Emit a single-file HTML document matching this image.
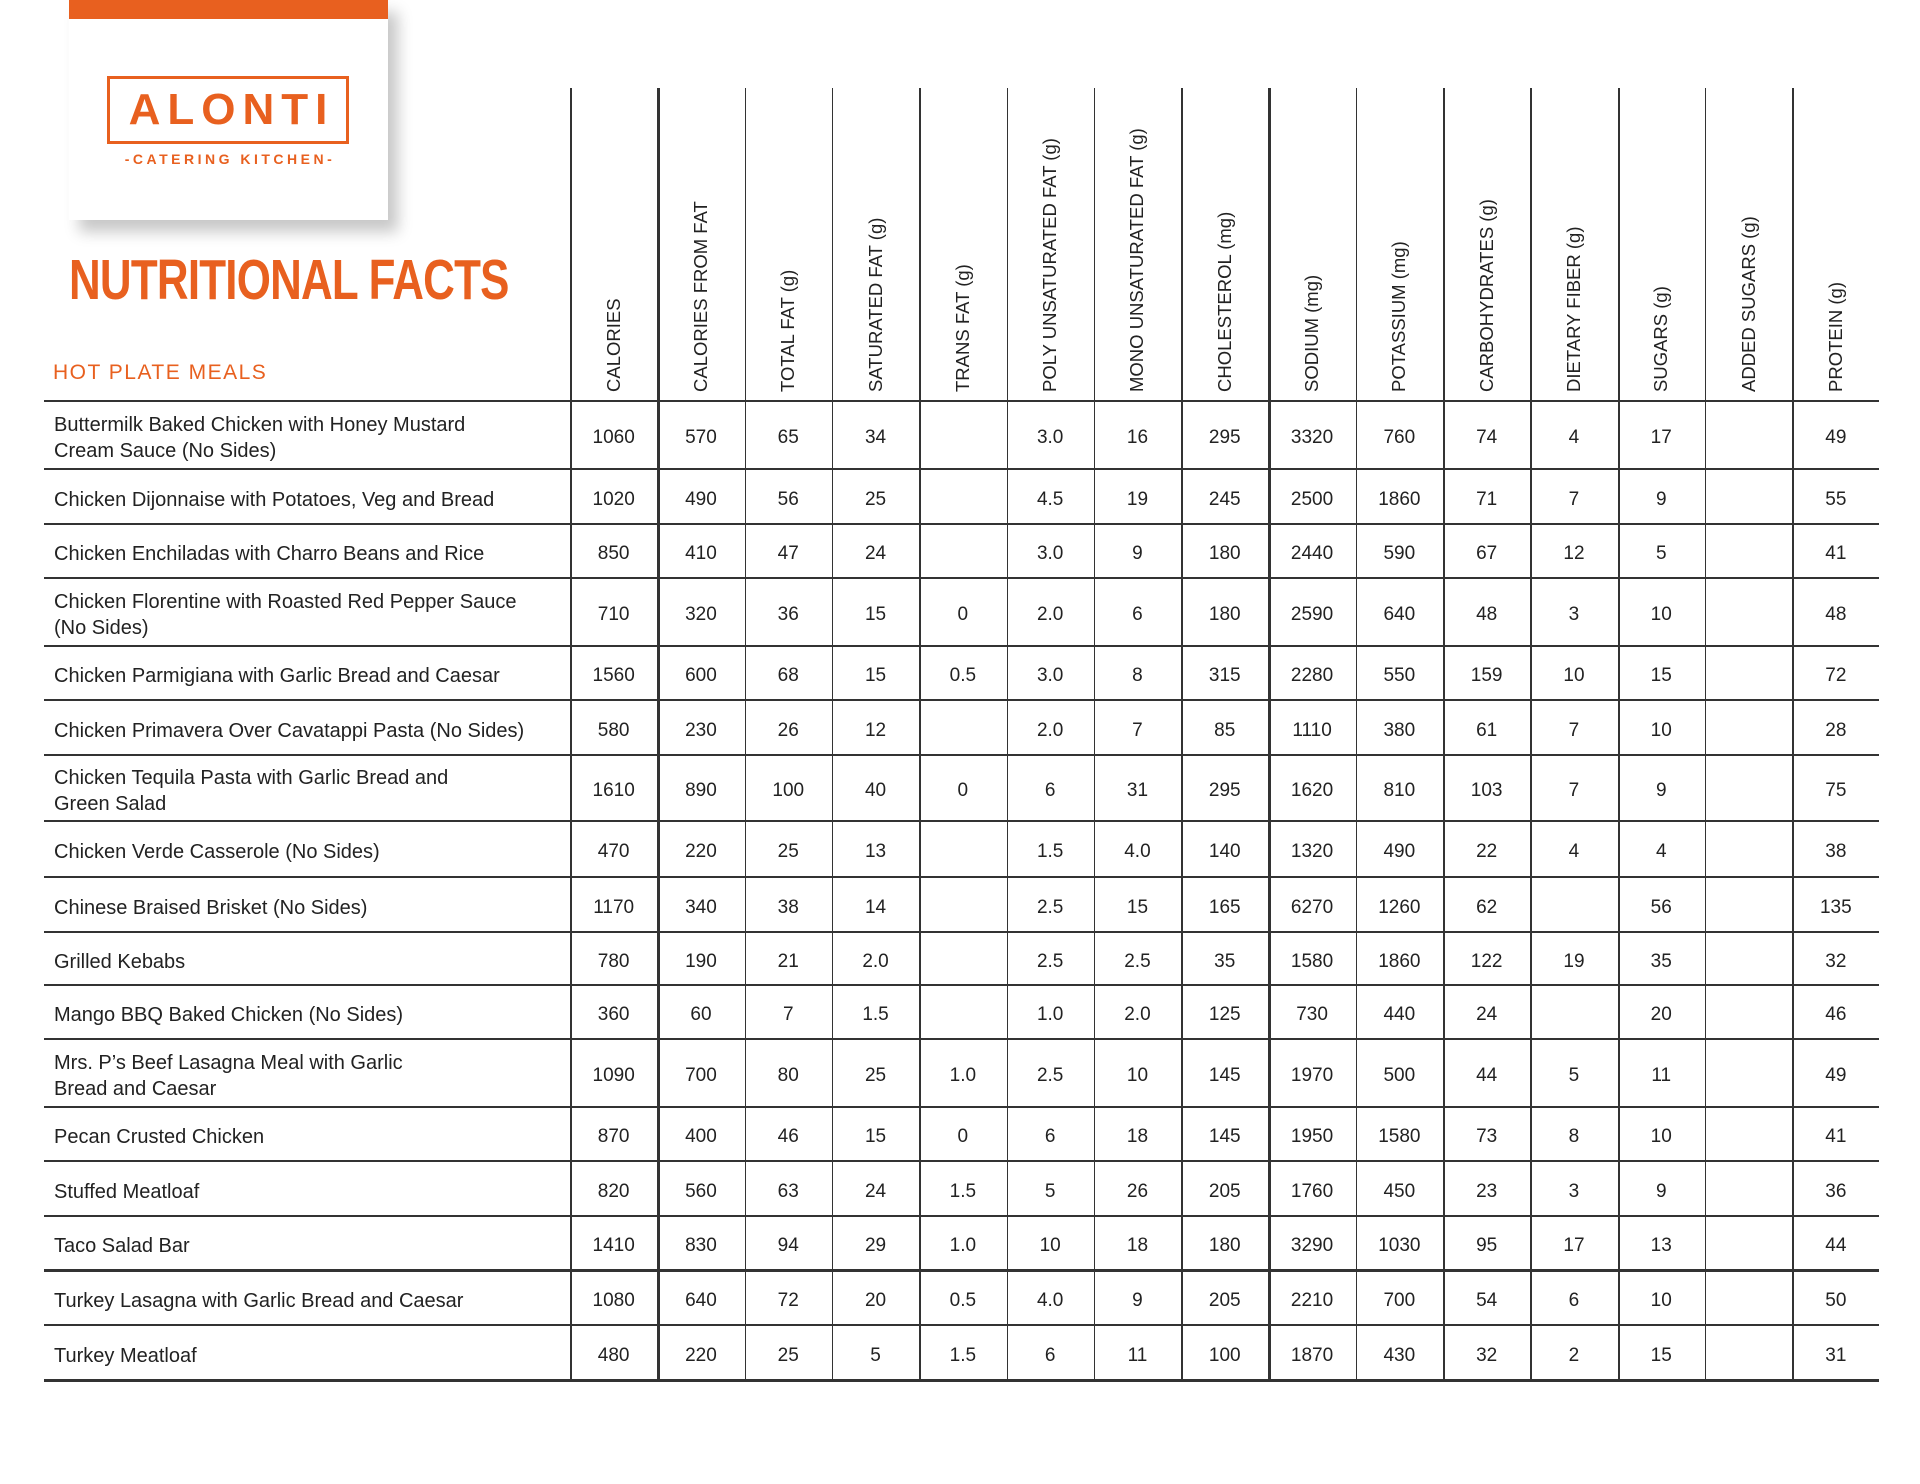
<!DOCTYPE html>
<html><head><meta charset="utf-8">
<style>
body{margin:0;width:1920px;height:1484px;background:#fff;position:relative;overflow:hidden;font-family:"Liberation Sans",sans-serif;color:#222}
.abs{position:absolute}
.hline{position:absolute;background:#333;height:1.5px}
.vline{position:absolute;background:#333;width:1.5px}
.hdr{position:absolute;transform-origin:0 0;transform:rotate(-90deg);white-space:nowrap;font-size:18.5px;color:#222}
.name{position:absolute;left:54px;font-size:20px;line-height:26px;color:#222}
.val{position:absolute;font-size:19px;text-align:center;color:#222}
</style></head><body>
<div class="abs" style="left:69px;top:0;width:319px;height:220px;background:#fff;box-shadow:10px 12px 14px rgba(0,0,0,0.22)"></div>
<div class="abs" style="left:69px;top:0;width:319px;height:19px;background:#e8601f"></div>
<div class="abs" style="left:107px;top:76px;width:236px;height:62px;border:3.5px solid #e8601f;color:#e8601f;font-weight:bold;font-size:44px;line-height:62px;text-align:center;letter-spacing:7px;text-indent:7px">ALONTI</div>
<div class="abs" style="left:105px;top:151px;width:250px;text-align:center;color:#e8601f;font-weight:bold;font-size:14px;letter-spacing:3.5px;white-space:nowrap">-CATERING KITCHEN-</div>
<div class="abs" style="left:69px;top:250px;color:#e8601f;font-weight:bold;font-size:57px;line-height:60px;transform:scaleX(0.77);transform-origin:0 0;white-space:nowrap;letter-spacing:-1px">NUTRITIONAL FACTS</div>
<div class="abs" style="left:53px;top:361px;color:#e8601f;font-size:21px;letter-spacing:1.5px">HOT PLATE MEALS</div>
<div id="tbl"></div>
<script>
const headers=["CALORIES","CALORIES FROM FAT","TOTAL FAT (g)","SATURATED FAT (g)","TRANS FAT (g)","POLY UNSATURATED FAT (g)","MONO UNSATURATED FAT (g)","CHOLESTEROL (mg)","SODIUM (mg)","POTASSIUM (mg)","CARBOHYDRATES (g)","DIETARY FIBER (g)","SUGARS (g)","ADDED SUGARS (g)","PROTEIN (g)"];
const meals=["Buttermilk Baked Chicken with Honey Mustard<br>Cream Sauce (No Sides)","Chicken Dijonnaise with Potatoes, Veg and Bread","Chicken Enchiladas with Charro Beans and Rice","Chicken Florentine with Roasted Red Pepper Sauce<br>(No Sides)","Chicken Parmigiana with Garlic Bread and Caesar","Chicken Primavera Over Cavatappi Pasta (No Sides)","Chicken Tequila Pasta with Garlic Bread and<br>Green Salad","Chicken Verde Casserole (No Sides)","Chinese Braised Brisket (No Sides)","Grilled Kebabs","Mango BBQ Baked Chicken (No Sides)","Mrs. P’s Beef Lasagna Meal with Garlic<br>Bread and Caesar","Pecan Crusted Chicken","Stuffed Meatloaf","Taco Salad Bar","Turkey Lasagna with Garlic Bread and Caesar","Turkey Meatloaf"];
const values=[
["1060","570","65","34","","3.0","16","295","3320","760","74","4","17","","49"],
["1020","490","56","25","","4.5","19","245","2500","1860","71","7","9","","55"],
["850","410","47","24","","3.0","9","180","2440","590","67","12","5","","41"],
["710","320","36","15","0","2.0","6","180","2590","640","48","3","10","","48"],
["1560","600","68","15","0.5","3.0","8","315","2280","550","159","10","15","","72"],
["580","230","26","12","","2.0","7","85","1110","380","61","7","10","","28"],
["1610","890","100","40","0","6","31","295","1620","810","103","7","9","","75"],
["470","220","25","13","","1.5","4.0","140","1320","490","22","4","4","","38"],
["1170","340","38","14","","2.5","15","165","6270","1260","62","","56","","135"],
["780","190","21","2.0","","2.5","2.5","35","1580","1860","122","19","35","","32"],
["360","60","7","1.5","","1.0","2.0","125","730","440","24","","20","","46"],
["1090","700","80","25","1.0","2.5","10","145","1970","500","44","5","11","","49"],
["870","400","46","15","0","6","18","145","1950","1580","73","8","10","","41"],
["820","560","63","24","1.5","5","26","205","1760","450","23","3","9","","36"],
["1410","830","94","29","1.0","10","18","180","3290","1030","95","17","13","","44"],
["1080","640","72","20","0.5","4.0","9","205","2210","700","54","6","10","","50"],
["480","220","25","5","1.5","6","11","100","1870","430","32","2","15","","31"]];
const rowLines=[400,468,523,577,645,699,754,820,876,931,984,1038,1106,1160,1215,1269,1324,1379];
const tbl=document.getElementById('tbl');
const X0=570, CW=87.3, L=44, R=1879, TOP=88;
function colX(i){return X0+i*CW;}
for(let i=0;i<headers.length;i++){
  const v=document.createElement('div');v.className='vline';
  
  
  v.style.left=colX(i)+'px';v.style.top=TOP+'px';v.style.height=(1379-TOP)+'px';
  if(i==1||i==8||i==12)v.style.width='2.5px';
  tbl.appendChild(v);
}
headers.forEach((h,i)=>{
  const d=document.createElement('div');d.className='hdr';
  
  
  d.textContent=h;d.style.left=(colX(i)+CW/2-11)+'px';d.style.top='392px';
  tbl.appendChild(d);
});
rowLines.forEach((y,i)=>{
  const h=document.createElement('div');h.className='hline';
  
  
  h.style.left=L+'px';h.style.width=(R-L)+'px';h.style.top=y+'px';
  if(i==15||i==17)h.style.height='2.5px';
  tbl.appendChild(h);
});
meals.forEach((m,r)=>{
  const y0=rowLines[r],y1=rowLines[r+1],mid=(y0+y1)/2+4;
  const two=m.indexOf('<br>')>=0;
  const n=document.createElement('div');n.className='name';
  
  
  n.innerHTML=m;n.style.top=(mid-(two?26:13))+'px';
  tbl.appendChild(n);
  values[r].forEach((v,c)=>{
    const d=document.createElement('div');d.className='val';
    
    
    d.textContent=v;d.style.left=colX(c)+'px';d.style.width=CW+'px';d.style.top=(mid-11)+'px';
    tbl.appendChild(d);
  });
});
</script>
</body></html>
